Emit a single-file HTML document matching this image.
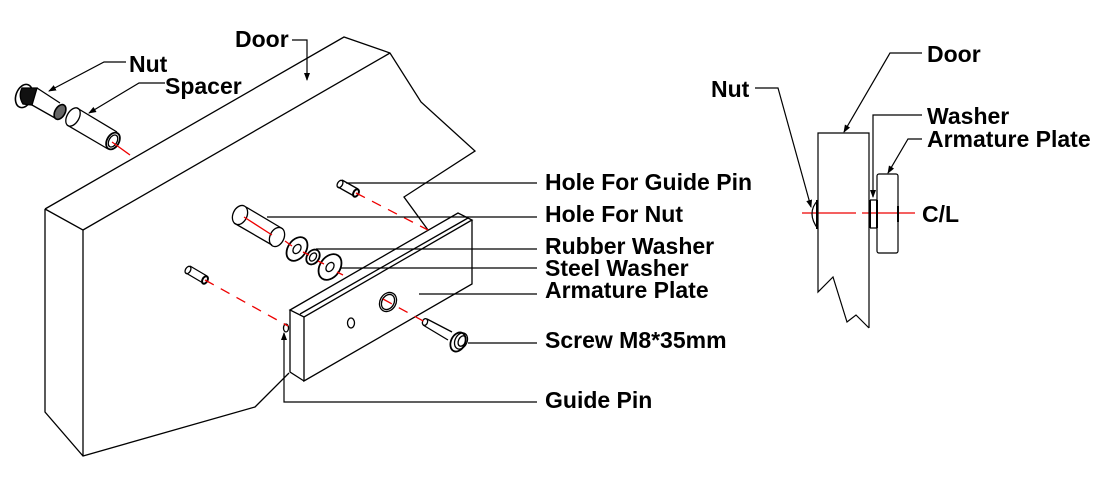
<!DOCTYPE html>
<html><head><meta charset="utf-8"><style>
html,body{margin:0;padding:0;background:#fff;}
svg{display:block;}
text{font-family:"Liberation Sans",Arial,sans-serif;font-weight:bold;font-size:23px;fill:#000;}
</style></head><body>
<svg width="1104" height="479" viewBox="0 0 1104 479" xmlns="http://www.w3.org/2000/svg">
<defs><marker id="ar" markerWidth="8" markerHeight="8" refX="7" refY="4" orient="auto" markerUnits="userSpaceOnUse"><path d="M0,1 L8,4 L0,7 Z" fill="#000"/></marker></defs>
<g fill="none" stroke="#000" stroke-width="1.3">
<!-- door -->
<path d="M45,209 L344,37 L390,53 L421,102 L475,151 L404,197 L428,230"/>
<path d="M83,230 L390,53"/>
<path d="M45,209 L83,230 L83,456 M45,209 L45,412 L83,456 L255,407 L289,373"/>
<!-- plate -->
<path d="M290,310 L458,213 L472,220 L304,317 Z"/>
<path d="M304,317 L304,381 L472,284 L472,220"/>
<path d="M290,310 L290,372 L304,381"/>
<path d="M300,314 L468,218"/>
<ellipse cx="388" cy="302" rx="8" ry="10" transform="rotate(30 388 302)"/>
<ellipse cx="388" cy="302" rx="6" ry="8" transform="rotate(30 388 302)"/>
<ellipse cx="351" cy="323" rx="3.5" ry="5"/>
<!-- screw -->
<path d="M427,319 L452,332 M423,325 L448,340"/>
<ellipse cx="425" cy="322" rx="2.5" ry="3.5" transform="rotate(20 425 322)"/>
<ellipse cx="458" cy="342" rx="7" ry="10" transform="rotate(25 458 342)" stroke-width="1.8"/>
<ellipse cx="461" cy="341" rx="6" ry="8.5" transform="rotate(25 461 341)"/>
<ellipse cx="462" cy="341" rx="3.5" ry="5.5" transform="rotate(25 462 341)"/>
<!-- guide pins -->
<ellipse cx="340" cy="184" rx="2.5" ry="4" transform="rotate(30 340 184)"/>
<ellipse cx="356" cy="193" rx="2.5" ry="4" transform="rotate(30 356 193)" stroke-width="2"/>
<path d="M338,187 L354,196 M342,180 L358,189"/>
<ellipse cx="188" cy="270" rx="2.5" ry="4" transform="rotate(30 188 270)"/>
<ellipse cx="205" cy="280" rx="2.5" ry="4" transform="rotate(30 205 280)" stroke-width="2"/>
<path d="M186,273 L203,283 M190,266 L207,276"/>
<ellipse cx="286" cy="328" rx="2.5" ry="4"/>
<!-- nut hole cylinder -->
<ellipse cx="240" cy="215" rx="7" ry="10" transform="rotate(25 240 215)"/>
<ellipse cx="277" cy="237" rx="7" ry="10" transform="rotate(25 277 237)"/>
<path d="M234,223 L272,245 M246,207 L283,229"/>
<!-- washers -->
<ellipse cx="297" cy="249" rx="9" ry="13" transform="rotate(35 297 249)" stroke-width="1.8"/>
<ellipse cx="297" cy="249" rx="3.5" ry="5" transform="rotate(35 297 249)"/>
<ellipse cx="313" cy="257" rx="6" ry="8" transform="rotate(35 313 257)" stroke-width="1.8"/>
<ellipse cx="313" cy="257" rx="3" ry="4.5" transform="rotate(35 313 257)"/>
<ellipse cx="330" cy="267" rx="10" ry="14" transform="rotate(35 330 267)" stroke-width="1.8"/>
<ellipse cx="330" cy="267" rx="3.5" ry="5" transform="rotate(35 330 267)"/>
<!-- nut & spacer -->
<ellipse cx="24" cy="96" rx="8" ry="12" transform="rotate(20 24 96)" stroke-width="1.6"/>
<path d="M37,88 L60,103 M32,105 L55,118"/>
<path d="M22,88 L37,88 L32,105 L23,104 Q18,96 22,88 Z" fill="#111"/>
<ellipse cx="60" cy="112" rx="5" ry="8" transform="rotate(30 60 112)" fill="#666" stroke-width="1.6"/>
<ellipse cx="73" cy="117" rx="6" ry="10" transform="rotate(30 73 117)"/>
<ellipse cx="113" cy="141" rx="6" ry="9" transform="rotate(30 113 141)" stroke-width="1.8"/>
<ellipse cx="113" cy="141" rx="4" ry="6.5" transform="rotate(30 113 141)"/>
<path d="M77,108 L117,132 M67,125 L108,149"/>
</g>
<!-- red centre lines -->
<g stroke="#e00" stroke-width="1.3" fill="none">
<path d="M112,142 L130,155"/>
<path d="M244,217 L272,235 M285,241 L292,246 M303,252 L309,255 M318,261 L324,264 M337,272 L343,275"/>
<path d="M356,193 L428,230" stroke-dasharray="10,8"/>
<path d="M205,280 L288,326" stroke-dasharray="10,8"/>
<path d="M383,299 L425,322" stroke-dasharray="10,8"/>
<path d="M802,213 L856,213 M862,213 L915,213"/>
</g>
<!-- leaders -->
<g fill="none" stroke="#000" stroke-width="1.2">
<path d="M292,40 L307,40 L307,80" marker-end="url(#ar)"/>
<path d="M126,62 L104,62 L49,91" marker-end="url(#ar)"/>
<path d="M165,83 L139,83 L89,113" marker-end="url(#ar)"/>
<path d="M346,183 L537,183"/>
<path d="M267,217 L537,217"/>
<path d="M316,249 L537,249"/>
<path d="M340,268 L537,268"/>
<path d="M419,294 L537,294"/>
<path d="M468,343 L537,343"/>
<path d="M537,402 L284,402 L284,333" marker-end="url(#ar)"/>
<!-- right diagram -->
<path d="M869,328 L869,133 L818,133 L818,292 L833,277 L847,322 L856,315 L869,328"/>
<rect x="877" y="174" width="21" height="79" rx="2"/>
<path d="M870,200 L877,200 M870,228 L877,228" />
<path d="M870,200 L870,228 M877,200 L877,228" stroke-width="2"/>
<path d="M818,200 Q806,213 818,229" />
<path d="M817,200 L817,229" stroke-width="2"/>
<path d="M898,206 L898,222" stroke-width="2"/>
<path d="M922,53 L890,53 L844,132" marker-end="url(#ar)"/>
<path d="M755,88 L778,88 L811,207" marker-end="url(#ar)"/>
<path d="M922,115 L873,115 L873,197" marker-end="url(#ar)"/>
<path d="M922,139 L908,139 L888,173" marker-end="url(#ar)"/>
</g>
<text x="235" y="47">Door</text>
<text x="129" y="72">Nut</text>
<text x="165" y="94">Spacer</text>
<text x="545" y="190">Hole For Guide Pin</text>
<text x="545" y="222">Hole For Nut</text>
<text x="545" y="254">Rubber Washer</text>
<text x="545" y="276">Steel Washer</text>
<text x="545" y="298">Armature Plate</text>
<text x="545" y="348">Screw M8*35mm</text>
<text x="545" y="408">Guide Pin</text>
<text x="927" y="62">Door</text>
<text x="711" y="97">Nut</text>
<text x="927" y="124">Washer</text>
<text x="927" y="147">Armature Plate</text>
<text x="922" y="222">C/L</text>
</svg>
</body></html>
